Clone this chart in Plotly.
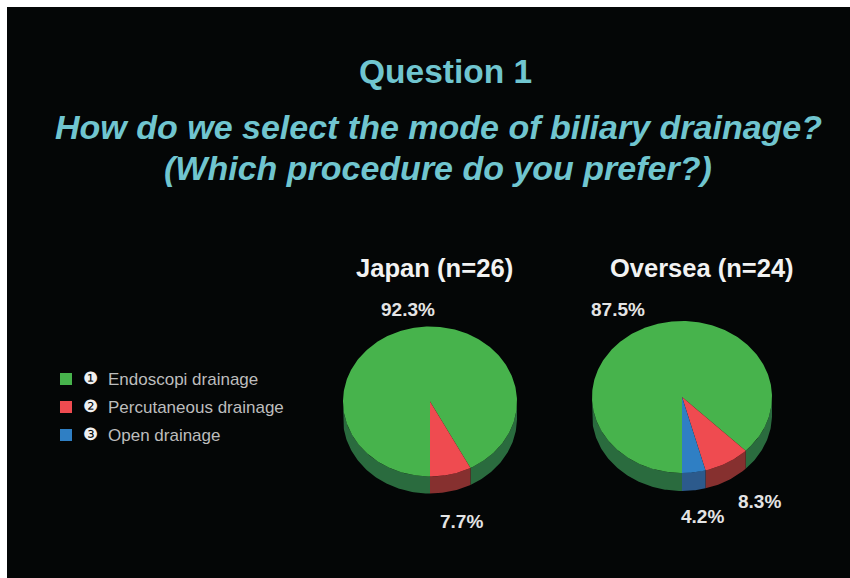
import numpy as np
import plotly.graph_objects as go

categories = ["Endoscopi drainage", "Percutaneous drainage", "Open drainage"]
badges = ["❶", "❷", "❸"]
colors = ["#47b34c", "#ef4b50", "#2f7fc4"]
wall_colors = ["#2a6b3e", "#86302f", "#2c5a8c"]
japan_values = [92.3, 7.7, 0.0]
oversea_values = [87.5, 8.3, 4.2]
japan_labels = ["92.3%", "7.7%"]
oversea_labels = ["87.5%", "8.3%", "4.2%"]
TITLE_COLOR = "#70c5cf"
W, H = 850, 578
fig = go.Figure()


def ellipse_pts(cx, cy, rx, ry, a0, a1):
    n = max(2, int(abs(a1 - a0)) + 2)
    t = np.radians(np.linspace(a0, a1, n))
    return cx + rx * np.sin(t), cy - ry * np.cos(t)


def add_pie(name, values, cx, cy, rx, ry, depth):
    total = sum(values)
    start = 180.0
    for cat, val, col, wall in zip(categories, values, colors, wall_colors):
        if val <= 0:
            continue
        end = start + val / total * 360
        # side wall: only the part of the slice on the front half (90..270, and 450..630)
        for off in (0, 360):
            a0, a1 = max(start, 90 + off), min(end, 270 + off)
            if a1 > a0:
                x, y = ellipse_pts(cx, cy, rx, ry, a0, a1)
                fig.add_trace(go.Scatter(
                    x=np.concatenate([x, x[::-1]]),
                    y=np.concatenate([y, y[::-1] + depth]),
                    fill="toself", fillcolor=wall, mode="lines",
                    line=dict(width=0, color=wall), hoverinfo="skip", showlegend=False))
        x, y = ellipse_pts(cx, cy, rx, ry, start, end)
        fig.add_trace(go.Scatter(
            x=np.concatenate([[cx], x, [cx]]), y=np.concatenate([[cy], y, [cy]]),
            fill="toself", fillcolor=col, mode="lines", line=dict(width=0, color=col),
            name=f"{name}: {cat}", text=f"{val}%", hoverinfo="name+text", showlegend=False))
        start = end


add_pie("Japan", japan_values, 430, 401.5, 87, 75, 17)
add_pie("Oversea", oversea_values, 682, 397, 90, 76, 18)

# legend swatches
fig.add_trace(go.Scatter(x=[66, 66, 66], y=[379, 407, 435], mode="markers",
                         marker=dict(symbol="square", size=12, color=colors),
                         text=categories, hoverinfo="text", showlegend=False))


def note(x, y, text, size, color="#ffffff", anchor="center"):
    fig.add_annotation(x=x, y=y, text=text, showarrow=False, xanchor=anchor, yanchor="middle",
                       font=dict(family="Liberation Sans", size=size, color=color))


note(445, 71, "<b>Question 1</b>", 33.5, TITLE_COLOR)
note(438, 127, "<b><i>How do we select the mode of biliary drainage?</i></b>", 34, TITLE_COLOR)
note(438, 168, "<b><i>(Which procedure do you prefer?)</i></b>", 34, TITLE_COLOR)
note(434.5, 268, "<b>Japan (n=26)</b>", 25.6, "#f2f2f2")
note(701.5, 268, "<b>Oversea (n=24)</b>", 25.5, "#f2f2f2")
for x, y, t in zip([408, 461], [309, 521], japan_labels):
    note(x, y, f"<b>{t}</b>", 19, "#e4e4e4")
for x, y, t in zip([618, 759.5, 702.5], [309, 501, 516], oversea_labels):
    note(x, y, f"<b>{t}</b>", 19, "#e4e4e4")
for y, b, c in zip([379, 407, 435], badges, categories):
    fig.add_annotation(x=90, y=y - 1, text=b, showarrow=False,
                       font=dict(family="DejaVu Sans", size=17, color="#f0f0f0"))
    note(105.5, y, c, 17, "#bdbdbd", "left")

axis = dict(visible=False, fixedrange=True)
fig.update_layout(
    width=W, height=H, paper_bgcolor="#ffffff", plot_bgcolor="#040606",
    margin=dict(l=7, r=0, t=7, b=0), showlegend=False,
    xaxis=dict(range=[7, W], **axis),
    yaxis=dict(range=[H, 7], **axis),
)
fig.write_html("out.html", config={"displayModeBar": False},
               post_script="document.body.style.margin='0';document.documentElement.style.overflow='hidden';")
